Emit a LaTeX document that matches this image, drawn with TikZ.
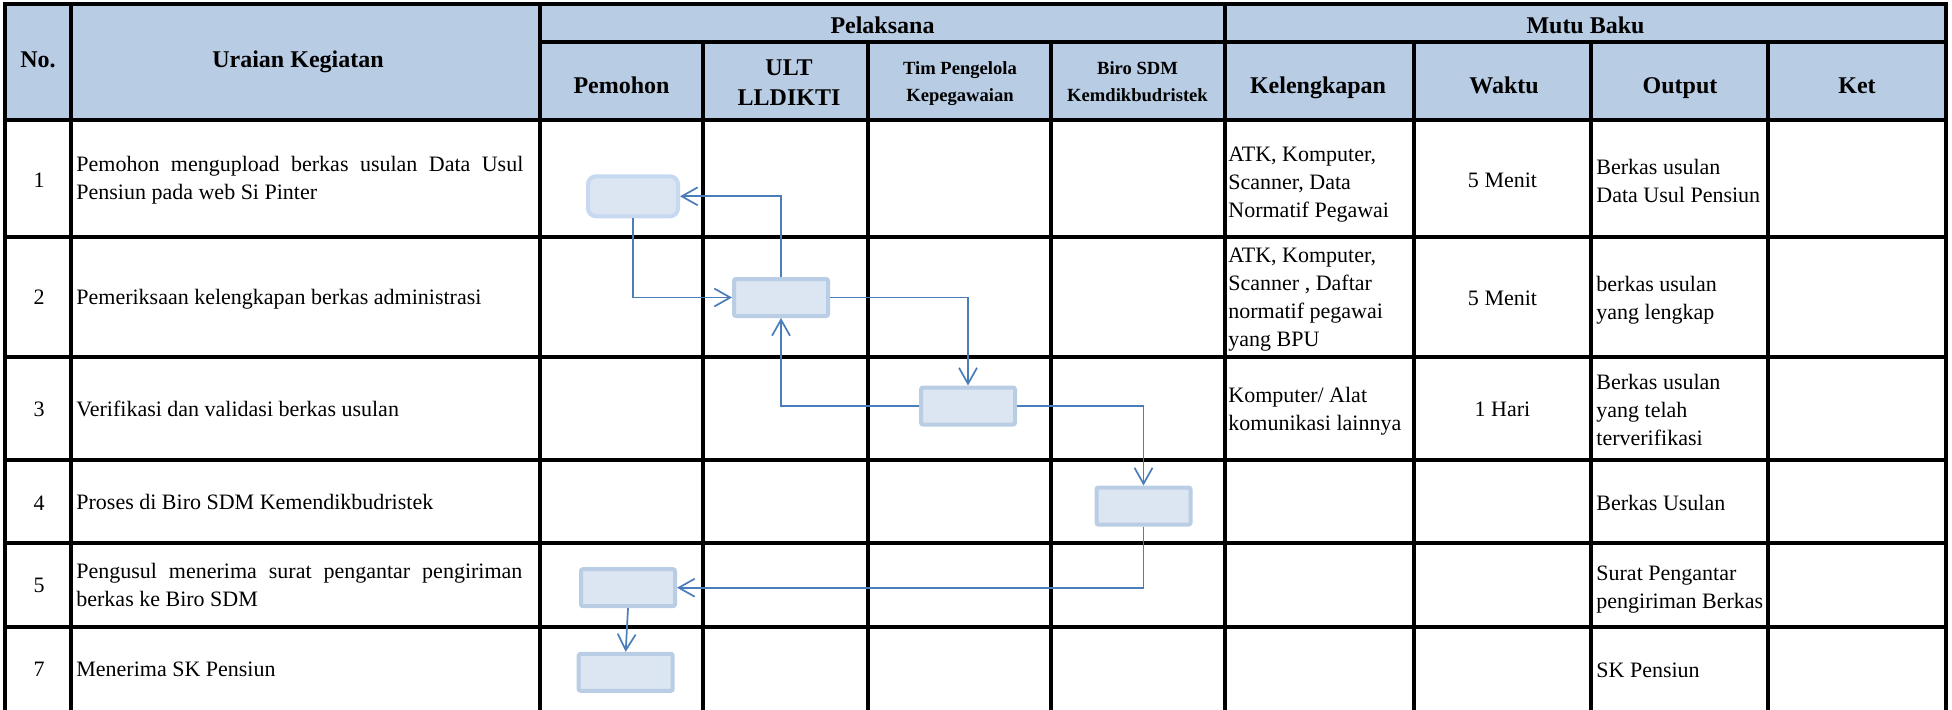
\documentclass[tikz,border=0pt]{standalone}
\usepackage{fontspec}
\setmainfont{Liberation Serif}
\usetikzlibrary{arrows.meta}

\definecolor{hdrfill}{HTML}{B8CCE4}
\definecolor{boxfill}{HTML}{DCE6F2}
\definecolor{boxedge}{HTML}{B9CDE5}
\definecolor{boxedgeA}{HTML}{C6D9F1}
\definecolor{flow}{HTML}{4A7EBB}

\begin{document}
\begin{tikzpicture}[x=0.5pt,y=-0.5pt,
  grid/.style={line width=1.6pt, black, line cap=rect},
  hdr/.style={font=\bfseries\fontsize{12}{15}\selectfont, inner sep=0pt, anchor=base, align=center},
  hdrsmall/.style={font=\bfseries\fontsize{9.3}{13.3}\selectfont, inner sep=0pt, anchor=base, align=center},
  body/.style={font=\fontsize{11}{14}\selectfont, inner sep=0pt, anchor=base west, align=left},
  bodyc/.style={font=\fontsize{11}{14}\selectfont, inner sep=0pt, anchor=base, align=center},
  proc/.style={draw=boxedge, fill=boxfill, line width=2pt, minimum width=47pt,
    minimum height=18.5pt, inner sep=0pt, rounded corners=1pt},
  procA/.style={proc, draw=boxedgeA, minimum width=45pt, minimum height=20pt, rounded corners=4pt},
  flowline/.style={draw=flow, line width=0.85pt, -{Straight Barb[length=8pt,width=9pt]}}
]
% canvas
\fill[white] (0,0) rectangle (1952,709);
\useasboundingbox (0,0) rectangle (1952,709);

% header band
\fill[hdrfill] (5,4) rectangle (1946,120);

% table rules
\draw[grid] (5,4) -- (1946,4);
\draw[grid] (540,42) -- (1946,42);
\foreach \yy in {120,237,357,460,543,627}
  \draw[grid] (5,\yy) -- (1946,\yy);
\foreach \xx in {5,71,540,1225,1946}
  \draw[grid] (\xx,4) -- (\xx,709);
\foreach \xx in {703,868,1051,1414,1591,1768}
  \draw[grid] (\xx,42) -- (\xx,709);

% header texts (multi-line nodes sit on the baseline of their last line)
\node[hdr] (hNo)   at (38,67)     {No.};
\node[hdr] (hUr)   at (298,67)    {Uraian Kegiatan};
\node[hdr] (hPel)  at (882.5,33)  {Pelaksana};
\node[hdr] (hMutu) at (1585.5,33) {Mutu Baku};
\node[hdr] (hPem)  at (621.5,93)  {Pemohon};
\node[hdr] (hUlt)  at (789,105)   {ULT\\LLDIKTI};
\node[hdrsmall] (hTim)  at (960,101)    {Tim Pengelola\\Kepegawaian};
\node[hdrsmall] (hBiro) at (1137.5,101) {Biro SDM\\Kemdikbudristek};
\node[hdr] (hKel)  at (1318,93)   {Kelengkapan};
\node[hdr] (hWak)  at (1504,93)   {Waktu};
\node[hdr] (hOut)  at (1680,93)   {Output};
\node[hdr] (hKet)  at (1857,93)   {Ket};

% row numbers
\node[bodyc] (n1) at (39,187)   {1};
\node[bodyc] (n2) at (39,304.5) {2};
\node[bodyc] (n3) at (39,416.5) {3};
\node[bodyc] (n4) at (39,510.5) {4};
\node[bodyc] (n5) at (39,592)   {5};
\node[bodyc] (n7) at (39,676)   {7};

% activity descriptions
\node[body] (u1) at (76,199.5) {\makebox[223.5pt][s]{Pemohon mengupload berkas usulan Data Usul}\\Pensiun pada web Si Pinter};
\node[body] (u2) at (76,304)   {Pemeriksaan kelengkapan berkas administrasi};
\node[body] (u3) at (76,416)   {Verifikasi dan validasi berkas usulan};
\node[body] (u4) at (76,509)   {Proses di Biro SDM Kemendikbudristek};
\node[body] (u5) at (76,606)   {\makebox[223pt][s]{Pengusul menerima surat pengantar pengiriman}\\berkas ke Biro SDM};
\node[body] (u7) at (76,676)   {Menerima SK Pensiun};

% Kelengkapan
\node[body] (k1) at (1228,217)   {ATK, Komputer,\\Scanner, Data\\Normatif Pegawai};
\node[body] (k2) at (1228,346.6) {ATK, Komputer,\\Scanner , Daftar\\normatif pegawai\\yang BPU};
\node[body] (k3) at (1228,430)   {Komputer/ Alat\\komunikasi lainnya};

% Waktu
\node[bodyc] (w1) at (1502.5,187) {5 Menit};
\node[bodyc] (w2) at (1502.5,305) {5 Menit};
\node[bodyc] (w3) at (1502.5,416) {1 Hari};

% Output
\node[body] (o1) at (1596,202) {Berkas usulan\\Data Usul Pensiun};
\node[body] (o2) at (1596,319) {berkas usulan\\yang lengkap};
\node[body] (o3) at (1596,445) {Berkas usulan\\yang telah\\terverifikasi};
\node[body] (o4) at (1596,510) {Berkas Usulan};
\node[body] (o5) at (1596,608) {Surat Pengantar\\pengiriman Berkas};
\node[body] (o7) at (1596,677) {SK Pensiun};

% process boxes
\node[procA] (A) at (633,196.3)  {};
\node[proc]  (B) at (781,297.5)  {};
\node[proc]  (C) at (968,406)    {};
\node[proc]  (D) at (1143.5,506) {};
\node[proc]  (E) at (628,587.7)  {};
\node[proc]  (F) at (625.7,672.3) {};

% flow connectors
\draw[flowline] (A.south) |- (B.west);
\draw[flowline] (B.north) |- (A.east);
\draw[flowline] (B.east) -| (C.north);
\draw[flowline] (C.west) -| (B.south);
\draw[flowline] (C.east) -| (D.north);
\draw[flowline] (D.south) |- (E.east);
\draw[flowline] (E.south) -- (F.north);
\end{tikzpicture}
\end{document}
